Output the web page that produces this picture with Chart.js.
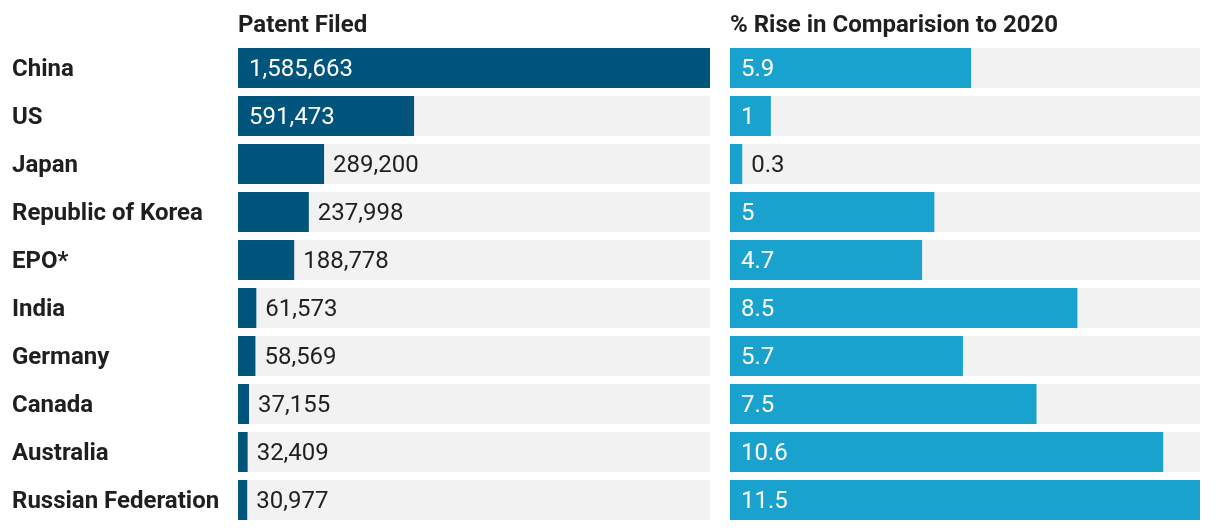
<!DOCTYPE html>
<html>
<head>
<meta charset="utf-8">
<script src="https://cdn.jsdelivr.net/npm/chart.js@4/dist/chart.umd.min.js"></script>
<style>
  html, body { margin: 0; padding: 0; background: #ffffff; }
  #wrap { position: relative; width: 1220px; height: 530px; }
  #c1 { position: absolute; left: 0; top: 0; }
  #c2 { position: absolute; left: 720px; top: 0; }
</style>
</head>
<body>
<div id="wrap">
  <canvas id="c1" width="720" height="530"></canvas>
  <canvas id="c2" width="500" height="530"></canvas>
</div>
<script>
const categories = ['China', 'US', 'Japan', 'Republic of Korea', 'EPO*', 'India', 'Germany', 'Canada', 'Australia', 'Russian Federation'];
const patentsFiled = [1585663, 591473, 289200, 237998, 188778, 61573, 58569, 37155, 32409, 30977];
const riseVs2020 = [5.9, 1, 0.3, 5, 4.7, 8.5, 5.7, 7.5, 10.6, 11.5];
const headers = ['Patent Filed', '% Rise in Comparision to 2020'];

const FONT = 'Roboto, "Noto Sans", sans-serif';
const TEXT = '#1f1f1f';
const TRACK = '#f2f2f2';

function valueLabels(formatter) {
  return {
    id: 'valueLabels',
    afterDatasetsDraw(chart) {
      const ctx = chart.ctx;
      const meta = chart.getDatasetMeta(1);
      const data = chart.data.datasets[1].data;
      ctx.save();
      ctx.font = '24px ' + FONT;
      ctx.textBaseline = 'middle';
      ctx.textAlign = 'left';
      meta.data.forEach((bar, i) => {
        const txt = formatter(data[i]);
        const w = ctx.measureText(txt).width;
        const barW = bar.x - bar.base;
        if (w + 24 <= barW) {
          ctx.fillStyle = '#ffffff';
          ctx.fillText(txt, bar.base + 11, bar.y + 2);
        } else {
          ctx.fillStyle = TEXT;
          ctx.fillText(txt, bar.x + 9, bar.y + 2);
        }
      });
      ctx.restore();
    }
  };
}

// Category labels drawn at the positions given by the library's y scale
const categoryLabels = {
  id: 'categoryLabels',
  afterDraw(chart) {
    const ctx = chart.ctx;
    const y = chart.scales.y;
    ctx.save();
    ctx.font = 'bold 24px ' + FONT;
    ctx.fillStyle = TEXT;
    ctx.textAlign = 'left';
    ctx.textBaseline = 'middle';
    y.ticks.forEach((t, i) => {
      ctx.fillText(y.getLabelForValue(t.value), 12, y.getPixelForTick(i) + 2);
    });
    ctx.restore();
  }
};

function headerPlugin(text) {
  return {
    id: 'header',
    afterDraw(chart) {
      const ctx = chart.ctx;
      ctx.save();
      ctx.font = 'bold 24px ' + FONT;
      ctx.fillStyle = TEXT;
      ctx.textAlign = 'left';
      ctx.textBaseline = 'alphabetic';
      ctx.fillText(text, chart.chartArea.left, 32);
      ctx.restore();
    }
  };
}

function makeChart(id, values, max, color, leftW, padding, fmt, header, extra) {
  return new Chart(document.getElementById(id), {
    type: 'bar',
    data: {
      labels: categories,
      datasets: [
        {
          data: categories.map(() => max),
          backgroundColor: TRACK,
          order: 2,
          grouped: false,
          categoryPercentage: 1,
          barPercentage: 40 / 48
        },
        {
          data: values,
          backgroundColor: color,
          order: 1,
          grouped: false,
          categoryPercentage: 1,
          barPercentage: 40 / 48
        }
      ]
    },
    options: {
      indexAxis: 'y',
      responsive: false,
      animation: false,
      layout: { padding: padding },
      plugins: { legend: { display: false }, tooltip: { enabled: false }, title: { display: false } },
      scales: {
        x: { display: false, min: 0, max: max },
        y: {
          display: true,
          grid: { display: false },
          border: { display: false },
          ticks: { display: false, autoSkip: false },
          afterFit(scale) {
            scale.width = leftW;
            scale.paddingTop = 0;
            scale.paddingBottom = 0;
          }
        }
      }
    },
    plugins: [valueLabels(fmt), headerPlugin(header)].concat(extra)
  });
}

makeChart('c1', patentsFiled, 1585663, '#01547c', 238,
  { left: 0, right: 10, top: 44, bottom: 6 },
  v => v.toLocaleString('en-US'), headers[0], [categoryLabels]);
makeChart('c2', riseVs2020, 11.5, '#1aa2ce', 0,
  { left: 10, right: 20, top: 44, bottom: 6 },
  v => String(v), headers[1], []);
</script>
</body>
</html>
